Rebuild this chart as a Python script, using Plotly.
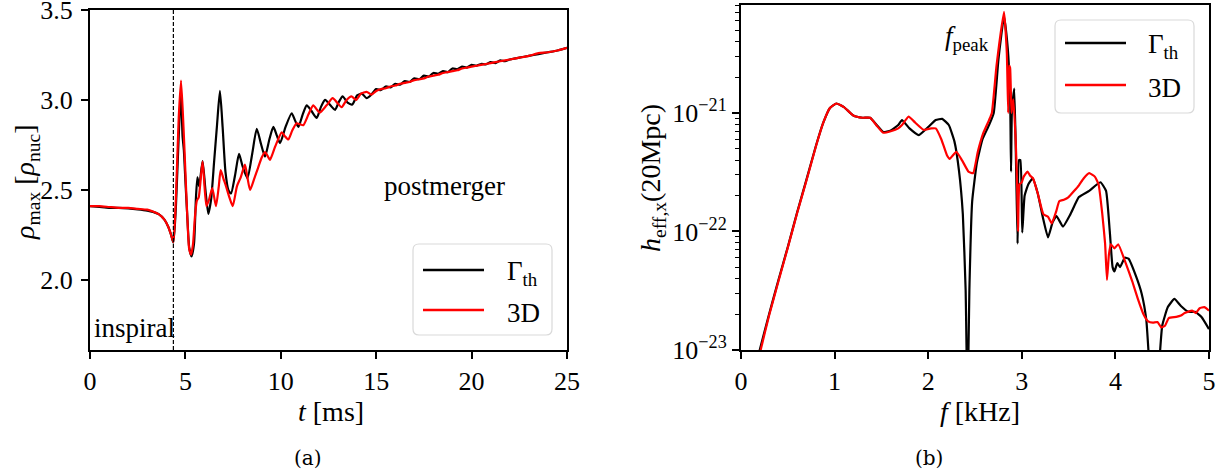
import plotly.graph_objects as go

# ---------------- data: panel (a) ----------------
t_th = [0, 0.5, 1.0, 1.5, 2.0, 2.5, 3.0, 3.3, 3.6, 3.9, 4.1, 4.25, 4.37, 4.5, 4.65, 4.77, 4.85, 4.92,
        5.0, 5.1, 5.2, 5.32, 5.45, 5.55, 5.63, 5.72, 5.9, 6.05, 6.2, 6.35, 6.5, 6.65, 6.81, 6.95,
        7.1, 7.25, 7.39, 7.6, 7.81, 8.0, 8.25, 8.5, 8.74, 8.95, 9.17, 9.4, 9.61, 9.8, 9.96, 10.25,
        10.57, 10.75, 10.92, 11.15, 11.36, 11.6, 11.88, 12.1, 12.32, 12.6, 12.84, 13.05, 13.24,
        13.5, 13.75, 14.0, 14.25, 14.5, 14.75, 15.0, 15.25, 15.5, 15.75, 16.0, 16.25, 16.5, 16.75,
        17.0, 17.25, 17.5, 17.75, 18.0, 18.25, 18.5, 18.75, 19.0, 19.25, 19.5, 19.75, 20.0, 20.25,
        20.5, 20.75, 21.0, 21.25, 21.5, 21.75, 22.0, 22.5, 23.0, 23.5, 24.0, 24.5, 25.0]
rho_th = [2.41, 2.405, 2.40, 2.40, 2.397, 2.392, 2.385, 2.378, 2.365, 2.335, 2.295, 2.25, 2.207,
          2.40, 2.80, 3.05, 2.80, 2.72, 2.55, 2.35, 2.18, 2.13, 2.20, 2.45, 2.57, 2.52, 2.66, 2.50,
          2.367, 2.45, 2.65, 2.85, 3.05, 2.85, 2.60, 2.50, 2.48, 2.58, 2.70, 2.63, 2.565, 2.70,
          2.84, 2.76, 2.685, 2.78, 2.85, 2.80, 2.76, 2.85, 2.926, 2.885, 2.85, 2.92, 2.97, 2.94,
          2.90, 2.96, 3.00, 2.97, 2.945, 2.99, 3.02, 2.985, 2.975, 3.025, 3.035, 3.01, 3.03, 3.06,
          3.055, 3.075, 3.07, 3.09, 3.085, 3.105, 3.10, 3.12, 3.115, 3.135, 3.13, 3.15, 3.145, 3.16,
          3.155, 3.175, 3.17, 3.185, 3.18, 3.195, 3.19, 3.20, 3.198, 3.21, 3.205, 3.22, 3.215,
          3.225, 3.235, 3.245, 3.255, 3.265, 3.275, 3.29]

t_3d = [0, 0.5, 1.0, 1.5, 2.0, 2.5, 3.0, 3.3, 3.6, 3.9, 4.1, 4.25, 4.37, 4.5, 4.65, 4.77, 4.9,
        5.0, 5.1, 5.2, 5.3, 5.4, 5.5, 5.6, 5.7, 5.9, 6.1, 6.25, 6.41, 6.6, 6.75, 6.85, 7.0, 7.1,
        7.3, 7.48, 7.7, 7.9, 8.12, 8.25, 8.39, 8.6, 8.8, 9.0, 9.17, 9.3, 9.43, 9.7, 10.05, 10.2,
        10.39, 10.6, 10.83, 11.0, 11.18, 11.45, 11.7, 11.9, 12.05, 12.4, 12.72, 12.95, 13.19,
        13.45, 13.7, 13.95, 14.2, 14.5, 14.75, 15.0, 15.25, 15.5, 15.75, 16.0, 16.25, 16.5, 16.75,
        17.0, 17.25, 17.5, 17.75, 18.0, 18.25, 18.5, 18.75, 19.0, 19.25, 19.5, 19.75, 20.0, 20.5,
        21.0, 21.5, 22.0, 22.5, 23.0, 23.5, 24.0, 24.5, 25.0]
rho_3d = [2.41, 2.41, 2.405, 2.40, 2.40, 2.395, 2.39, 2.38, 2.365, 2.335, 2.295, 2.25, 2.21,
          2.45, 2.90, 3.107, 2.85, 2.60, 2.35, 2.17, 2.14, 2.20, 2.35, 2.44, 2.46, 2.657, 2.41,
          2.45, 2.51, 2.41, 2.52, 2.61, 2.56, 2.53, 2.46, 2.41, 2.52, 2.57, 2.64, 2.57, 2.50, 2.56,
          2.62, 2.68, 2.71, 2.69, 2.667, 2.74, 2.82, 2.80, 2.78, 2.83, 2.87, 2.865, 2.86, 2.92,
          2.97, 2.945, 2.93, 2.97, 3.01, 2.985, 2.96, 3.00, 3.02, 3.00, 3.035, 3.045, 3.03, 3.05,
          3.06, 3.065, 3.075, 3.08, 3.09, 3.095, 3.10, 3.11, 3.115, 3.12, 3.13, 3.135, 3.14, 3.15,
          3.155, 3.16, 3.165, 3.175, 3.18, 3.185, 3.195, 3.205, 3.215, 3.225, 3.235, 3.245, 3.26,
          3.265, 3.275, 3.29]

t_merger = 4.37

# ---------------- data: panel (b) ----------------
f_th = [0.18, 0.2, 0.3, 0.4, 0.5, 0.6, 0.7, 0.8, 0.88, 0.95, 1.02, 1.1, 1.2, 1.3, 1.38, 1.45,
        1.52, 1.6, 1.68, 1.72, 1.8, 1.9, 2.0, 2.08, 2.15, 2.22, 2.28, 2.33, 2.37, 2.40, 2.42, 2.44,
        2.47, 2.52, 2.58, 2.65, 2.70, 2.75, 2.81, 2.85, 2.875, 2.885, 2.895, 2.92, 2.94, 2.955,
        2.97, 2.985, 3.005, 3.03, 3.07, 3.116, 3.17, 3.23, 3.28, 3.33, 3.37, 3.44, 3.52, 3.61,
        3.72, 3.84, 3.90, 3.94, 3.97, 3.99, 4.02, 4.05, 4.10, 4.14, 4.22, 4.28, 4.33, 4.37, 4.42,
        4.46, 4.50, 4.56, 4.63, 4.70, 4.78, 4.85, 4.92, 5.0]
h_th = [8.3e-24, 1.0e-23, 2.0e-23, 3.9e-23, 7.4e-23, 1.45e-22, 2.75e-22, 5.25e-22, 8.3e-22,
        1.10e-21, 1.20e-21, 1.12e-21, 9.5e-22, 9.1e-22, 9.1e-22, 7.9e-22, 6.9e-22, 7.1e-22,
        7.9e-22, 8.7e-22, 7.4e-22, 6.5e-22, 7.6e-22, 8.7e-22, 8.9e-22, 7.9e-22, 5.75e-22, 3.2e-22,
        1.4e-22, 3.2e-23, 3.2e-24, 3.2e-23, 1.8e-22, 3.8e-22, 6.0e-22, 7.9e-22, 1.0e-21, 2.8e-21,
        6.5e-21, 3.5e-21, 1.4e-21, 3.2e-22, 1.1e-21, 1.6e-21, 3.2e-22, 7.9e-23, 4.0e-22, 4.0e-22,
        9.8e-23, 2.0e-22, 2.5e-22, 2.8e-22, 2.1e-22, 1.26e-22, 8.9e-23, 1.2e-22, 1.35e-22, 1.1e-22,
        1.4e-22, 1.95e-22, 2.2e-22, 2.6e-22, 2.2e-22, 1.0e-22, 5.0e-23, 4.6e-23, 5.4e-23, 5.0e-23,
        6.0e-23, 5.9e-23, 4.2e-23, 3.0e-23, 1.8e-23, 6.3e-24, 3.2e-24, 6.3e-24, 1.6e-23, 2.3e-23,
        2.7e-23, 2.35e-23, 2.1e-23, 2.1e-23, 1.9e-23, 1.5e-23]

f_3d = [0.19, 0.21, 0.3, 0.4, 0.5, 0.6, 0.7, 0.8, 0.88, 0.95, 1.02, 1.1, 1.2, 1.3, 1.38, 1.45,
        1.52, 1.6, 1.68, 1.72, 1.79, 1.86, 1.95, 2.03, 2.08, 2.14, 2.20, 2.23, 2.30, 2.36, 2.43,
        2.48, 2.53, 2.59, 2.65, 2.68, 2.73, 2.81, 2.84, 2.855, 2.865, 2.875, 2.89, 2.91, 2.935,
        2.95, 2.96, 2.975, 3.0, 3.02, 3.06, 3.09, 3.12, 3.17, 3.23, 3.28, 3.32, 3.37, 3.40, 3.45,
        3.50, 3.61, 3.66, 3.72, 3.78, 3.82, 3.86, 3.89, 3.91, 3.93, 3.95, 3.99, 4.03, 4.11, 4.18,
        4.24, 4.30, 4.35, 4.40, 4.45, 4.49, 4.53, 4.57, 4.65, 4.70, 4.74, 4.82, 4.86, 4.90, 4.95,
        5.0]
h_3d = [8.3e-24, 1.0e-23, 1.95e-23, 3.8e-23, 7.3e-23, 1.43e-22, 2.7e-22, 5.2e-22, 8.3e-22,
        1.10e-21, 1.20e-21, 1.12e-21, 9.5e-22, 9.1e-22, 9.1e-22, 7.8e-22, 6.8e-22, 7.0e-22,
        7.4e-22, 7.9e-22, 9.3e-22, 8.3e-22, 7.2e-22, 7.4e-22, 7.4e-22, 6.0e-22, 4.4e-22, 4.1e-22,
        4.7e-22, 4.0e-22, 3.2e-22, 3.1e-22, 4.7e-22, 6.8e-22, 8.7e-22, 1.0e-21, 2.5e-21, 7.1e-21,
        3.2e-21, 1.0e-21, 2.5e-21, 2.4e-21, 1.0e-21, 1.3e-21, 5.75e-22, 2.5e-22, 1.0e-22, 2.5e-22,
        2.6e-22, 2.9e-22, 3.2e-22, 2.95e-22, 2.8e-22, 2.1e-22, 1.4e-22, 1.33e-22, 1.17e-22,
        1.5e-22, 1.8e-22, 1.85e-22, 1.95e-22, 2.45e-22, 2.8e-22, 3.1e-22, 2.9e-22, 2.5e-22,
        1.4e-22, 7.9e-23, 3.9e-23, 6.3e-23, 7.8e-23, 7.2e-23, 7.8e-23, 5.4e-23, 3.8e-23, 2.7e-23,
        2.0e-23, 1.74e-23, 1.7e-23, 1.72e-23, 1.55e-23, 1.6e-23, 1.86e-23, 1.9e-23, 1.95e-23,
        2.05e-23, 2.15e-23, 2.05e-23, 2.25e-23, 2.3e-23, 2.15e-23]

names = ["Γ<sub>th</sub>", "3D"]
colors = ["#000000", "#ff0000"]

# ---------------- layout helpers ----------------
W, H = 1230, 473
def px(x):
    return x / W
def py(y):
    return 1 - y / H

SERIF = "Liberation Serif"
TICKF = dict(family=SERIF, size=26, color="black")

fig = go.Figure()
for xs, ys, c, ax, sm in [(t_th, rho_th, colors[0], ("x", "y"), 0.6),
                          (t_3d, rho_3d, colors[1], ("x", "y"), 0.6),
                          (f_th, h_th, colors[0], ("x2", "y2"), 0.4),
                          (f_3d, h_3d, colors[1], ("x2", "y2"), 0.4)]:
    fig.add_trace(go.Scatter(x=xs, y=ys, mode="lines",
                             line=dict(color=c, width=2.2, shape="spline", smoothing=sm),
                             showlegend=False, xaxis=ax[0], yaxis=ax[1]))

axis_common = dict(showline=True, linecolor="black", linewidth=2, mirror=True, ticks="outside",
                   ticklen=7, tickwidth=1.5, tickcolor="black", showgrid=False, zeroline=False,
                   tickfont=TICKF, ticklabeloverflow="allow", automargin=False)

fig.update_layout(
    width=W, height=H, margin=dict(l=0, r=0, t=0, b=0, autoexpand=False), autosize=False,
    paper_bgcolor="white", plot_bgcolor="white", showlegend=False,
    xaxis=dict(domain=[px(90), px(567)], range=[0, 25], tickvals=[0, 5, 10, 15, 20, 25],
               anchor="y", **axis_common),
    yaxis=dict(domain=[py(350), py(10)], range=[1.61, 3.5],
               tickvals=[2.0, 2.5, 3.0, 3.5], ticktext=["2.0", "2.5", "3.0", "3.5"],
               ticklabelstandoff=3, anchor="x", **axis_common),
    xaxis2=dict(domain=[px(741), px(1209)], range=[0, 5], tickvals=[0, 1, 2, 3, 4, 5],
                anchor="y2", **axis_common),
    yaxis2=dict(domain=[py(350), py(5)], type="log", range=[-23, -20.09],
                tickvals=[1e-23, 1e-22, 1e-21],
                ticktext=["10<sup>−23</sup>", "10<sup>−22</sup>", "10<sup>−21</sup>"],
                minor=dict(ticks="outside", ticklen=4, tickwidth=1, tickcolor="black",
                           dtick="D1", showgrid=False),
                anchor="x2", **axis_common),
)

# merger line
fig.add_shape(type="line", xref="x", yref="y domain", x0=t_merger, x1=t_merger, y0=0, y1=1,
              line=dict(color="black", width=1.2, dash="4px,2px"))

ann = []
def text(x, y, s, size=28, angle=0, xref="paper", yref="paper", xanchor="center",
         yanchor="middle", family=SERIF):
    ann.append(dict(x=x, y=y, xref=xref, yref=yref, text=s, showarrow=False, textangle=angle,
                    xanchor=xanchor, yanchor=yanchor, font=dict(family=family, size=size,
                                                                 color="black")))

text(px(331), py(411), "<i>t</i> [ms]")
text(px(980), py(411), "<i>f</i> [kHz]")
text(px(26), py(182), "<i>ρ</i><sub>max</sub> [<i>ρ</i><sub>nuc</sub>]", angle=-90)
text(px(652), py(178), "<i>h</i><sub>eff,x</sub>(20Mpc)", angle=-90)
text(px(308), py(458), "(a)", size=20, family="DejaVu Serif")
text(px(929), py(458), "(b)", size=20, family="DejaVu Serif")
text(18.6, 2.52, "postmerger", size=27, xref="x", yref="y")
text(2.33, 1.73, "inspiral", size=27, xref="x", yref="y")
text(2.41, -20.37, "<i>f</i><sub>peak</sub>", size=27, xref="x2", yref="y2")

# legends (drawn as frame + samples + labels)
def legend(x0, y0, x1, y1, lx0, lx1, ly, tx):
    r = 6
    X0, X1 = px(x0), px(x1)
    Y0, Y1 = py(y1), py(y0)
    rx, ry = r / W, r / H
    path = (f"M {X0+rx},{Y0} L {X1-rx},{Y0} Q {X1},{Y0} {X1},{Y0+ry} "
            f"L {X1},{Y1-ry} Q {X1},{Y1} {X1-rx},{Y1} L {X0+rx},{Y1} "
            f"Q {X0},{Y1} {X0},{Y1-ry} L {X0},{Y0+ry} Q {X0},{Y0} {X0+rx},{Y0} Z")
    fig.add_shape(type="path", xref="paper", yref="paper", path=path,
                  line=dict(color="#d9d9d9", width=1.2), fillcolor="rgba(255,255,255,0.8)")
    for i in range(2):
        fig.add_shape(type="line", xref="paper", yref="paper", x0=px(lx0), x1=px(lx1),
                      y0=py(ly[i]), y1=py(ly[i]), line=dict(color=colors[i], width=2.6))
        text(px(tx), py(ly[i] + 3), names[i], size=27, xanchor="left")

legend(413, 244, 552, 335, 423, 484, [270, 310], 505)
legend(1055, 20, 1194, 113, 1065, 1126, [43, 85], 1146)

fig.update_layout(annotations=ann)
fig.write_html("out.html")
